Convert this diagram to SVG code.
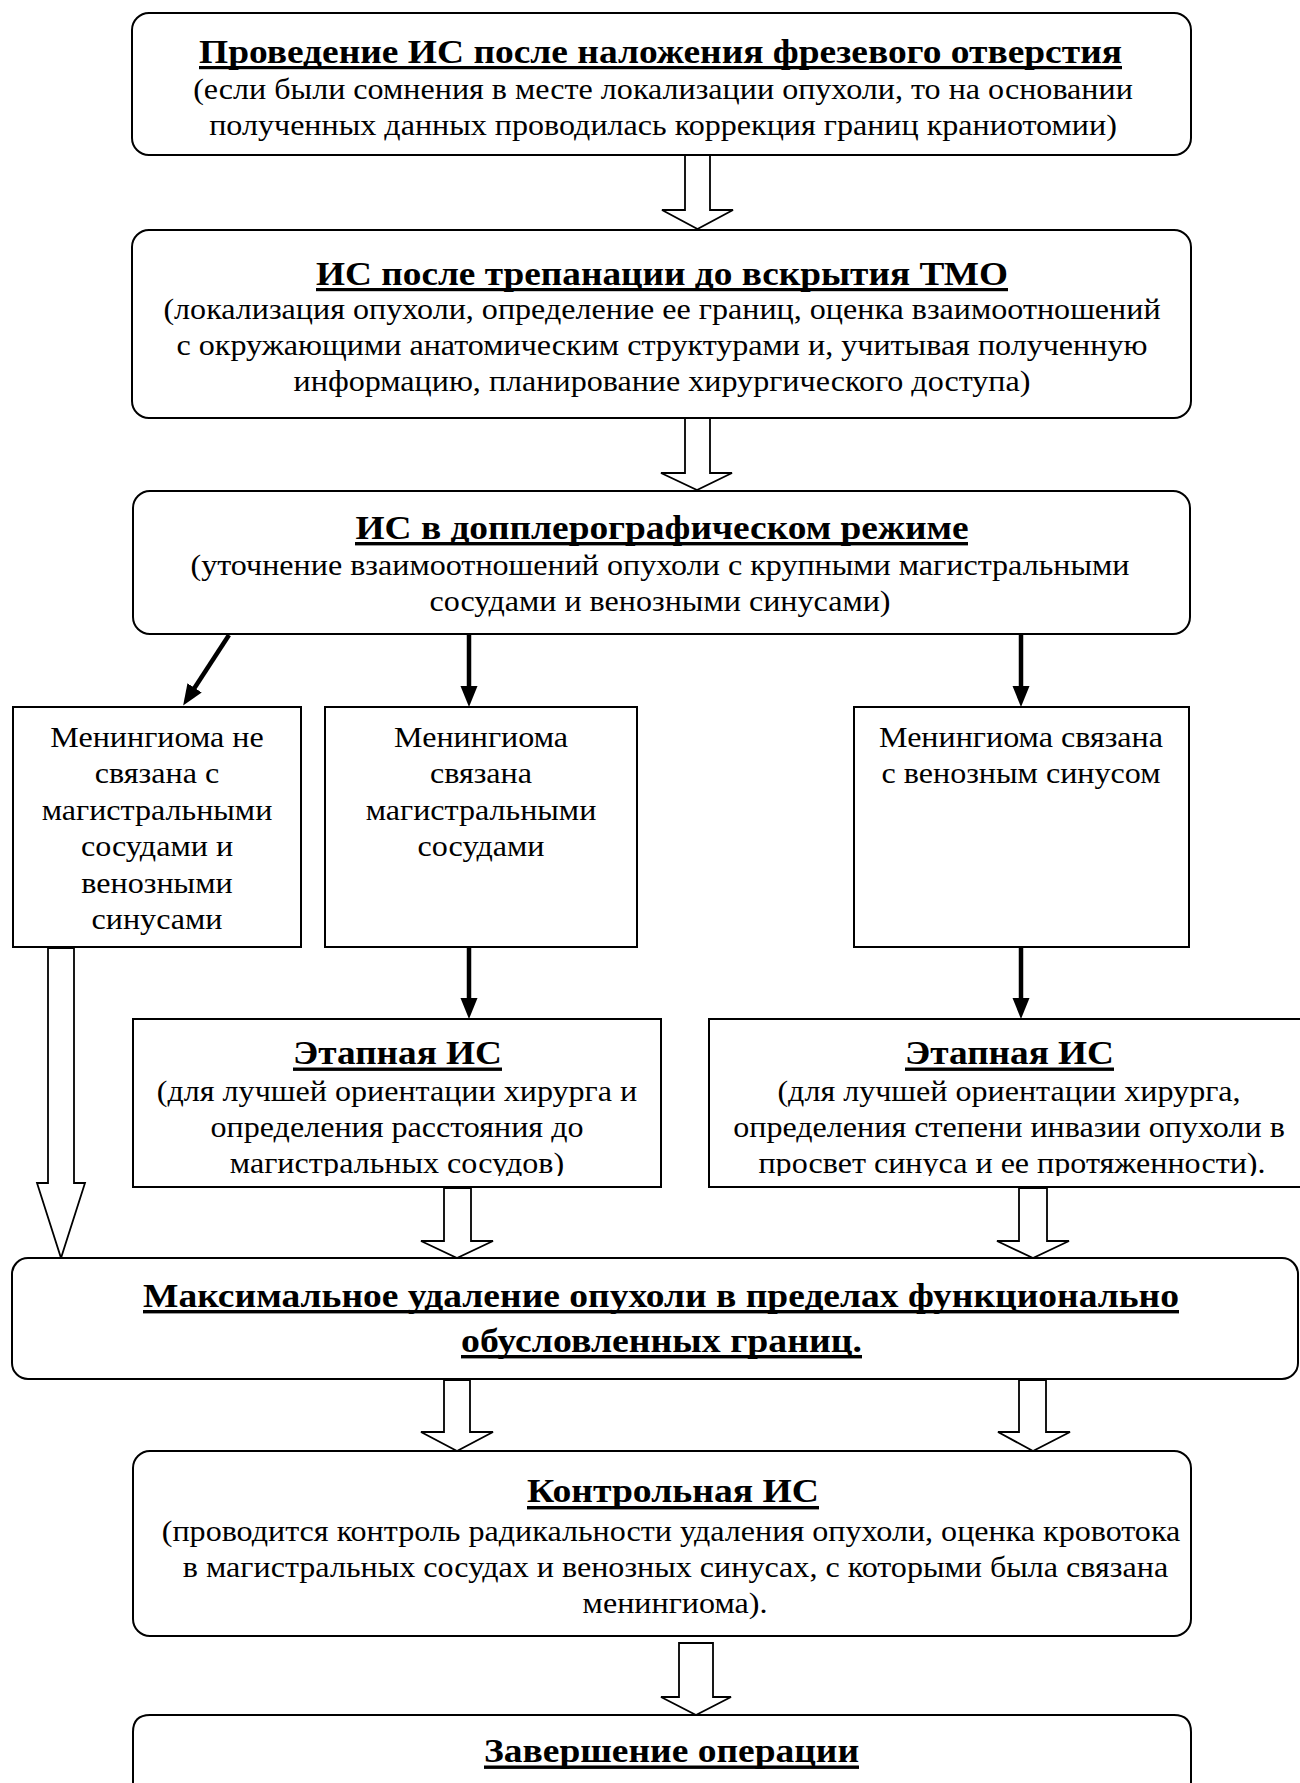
<svg xmlns="http://www.w3.org/2000/svg" width="1300" height="1783" viewBox="0 0 1300 1783">
<style>
.box{fill:#fff;stroke:#000;stroke-width:2}
.ha{fill:#fff;stroke:#000;stroke-width:1.8;stroke-linejoin:miter}
.sl{stroke:#000;stroke-width:4.5;fill:none}
text{font-family:"Liberation Serif","Times New Roman",serif;fill:#000;text-anchor:middle}
.t{font-size:33px;font-weight:bold}
.b{font-size:30px}
.ul{fill:#000}
</style>
<defs>
<marker id="ah" markerUnits="userSpaceOnUse" markerWidth="22" markerHeight="18" refX="2" refY="8.5" orient="auto" viewBox="0 0 22 17">
<path d="M0,0 L21,8.5 L0,17 z" fill="#000"/>
</marker>
<clipPath id="clipDE"><rect x="-2000" y="1000" width="5000" height="176"/></clipPath>
</defs>
<rect width="1300" height="1783" fill="#fff"/>

<g id="connectors">
<polygon class="ha" points="685,155 710,155 710,210 733,210 697.5,229 662,210 685,210"/>
<polygon class="ha" points="685,418 710,418 710,473 732,473 697,490 661,473 685,473"/>
<line class="sl" x1="229" y1="635" x2="193.5" y2="689.5" marker-end="url(#ah)"/>
<line class="sl" x1="469" y1="634" x2="469" y2="688" marker-end="url(#ah)"/>
<line class="sl" x1="1021" y1="634" x2="1021" y2="688" marker-end="url(#ah)"/>
<line class="sl" x1="469" y1="948" x2="469" y2="1000" marker-end="url(#ah)"/>
<line class="sl" x1="1021" y1="948" x2="1021" y2="1000" marker-end="url(#ah)"/>
<polygon class="ha" points="48,948 74,948 74,1183 85,1183 61,1258 37,1183 48,1183"/>
<polygon class="ha" points="444,1188 471,1188 471,1241 493,1241 457,1258 421,1241 444,1241"/>
<polygon class="ha" points="1019,1188 1047,1188 1047,1241 1069,1241 1033,1258 997,1241 1019,1241"/>
<polygon class="ha" points="444,1380 470,1380 470,1432 493,1432 457,1451 421,1432 444,1432"/>
<polygon class="ha" points="1019,1380 1046,1380 1046,1432 1070,1432 1033,1451 998,1432 1019,1432"/>
<polygon class="ha" points="679,1643 713,1643 713,1697 731,1697 696,1715 661,1697 679,1697"/>
</g>

<g id="n1">
<rect class="box" x="132" y="13" width="1059" height="142" rx="17"/>
<text class="t" x="660.5" y="63" textLength="923" lengthAdjust="spacingAndGlyphs">Проведение ИС после наложения фрезевого отверстия</text>
<rect class="ul" x="199" y="66" width="923" height="3.2"/>
<text class="b" transform="matrix(1.07,0,0,1,663,0)" x="0" y="99">(если были сомнения в месте локализации опухоли, то на основании</text>
<text class="b" transform="matrix(1.07,0,0,1,663,0)" x="0" y="135">полученных данных проводилась коррекция границ краниотомии)</text>
</g>

<g id="n2">
<rect class="box" x="132" y="230" width="1059" height="188" rx="17"/>
<text class="t" x="662" y="285" textLength="692" lengthAdjust="spacingAndGlyphs">ИС после трепанации до вскрытия ТМО</text>
<rect class="ul" x="316" y="288" width="692" height="3.2"/>
<text class="b" transform="matrix(1.07,0,0,1,662,0)" x="0" y="319">(локализация опухоли, определение ее границ, оценка взаимоотношений</text>
<text class="b" transform="matrix(1.07,0,0,1,662,0)" x="0" y="355">с окружающими анатомическим структурами и, учитывая полученную</text>
<text class="b" transform="matrix(1.07,0,0,1,662,0)" x="0" y="391">информацию, планирование хирургического доступа)</text>
</g>

<g id="n3">
<rect class="box" x="133" y="491" width="1057" height="143" rx="17"/>
<text class="t" x="662" y="539" textLength="613" lengthAdjust="spacingAndGlyphs">ИС в допплерографическом режиме</text>
<rect class="ul" x="355" y="542" width="613" height="3.4"/>
<text class="b" transform="matrix(1.07,0,0,1,660,0)" x="0" y="575">(уточнение взаимоотношений опухоли с крупными магистральными</text>
<text class="b" transform="matrix(1.07,0,0,1,660,0)" x="0" y="611">сосудами и венозными синусами)</text>
</g>

<g id="nA">
<rect class="box" x="13" y="707" width="288" height="240"/>
<text class="b" transform="matrix(1.07,0,0,1,157,0)" x="0" y="747">Менингиома не</text>
<text class="b" transform="matrix(1.07,0,0,1,157,0)" x="0" y="783.5">связана с</text>
<text class="b" transform="matrix(1.07,0,0,1,157,0)" x="0" y="820">магистральными</text>
<text class="b" transform="matrix(1.07,0,0,1,157,0)" x="0" y="856.5">сосудами и</text>
<text class="b" transform="matrix(1.07,0,0,1,157,0)" x="0" y="893">венозными</text>
<text class="b" transform="matrix(1.07,0,0,1,157,0)" x="0" y="929.5">синусами</text>
</g>

<g id="nB">
<rect class="box" x="325" y="707" width="312" height="240"/>
<text class="b" transform="matrix(1.07,0,0,1,481,0)" x="0" y="747">Менингиома</text>
<text class="b" transform="matrix(1.07,0,0,1,481,0)" x="0" y="783.5">связана</text>
<text class="b" transform="matrix(1.07,0,0,1,481,0)" x="0" y="820">магистральными</text>
<text class="b" transform="matrix(1.07,0,0,1,481,0)" x="0" y="856.5">сосудами</text>
</g>

<g id="nC">
<rect class="box" x="854" y="707" width="335" height="240"/>
<text class="b" transform="matrix(1.07,0,0,1,1021,0)" x="0" y="747">Менингиома связана</text>
<text class="b" transform="matrix(1.07,0,0,1,1021,0)" x="0" y="783.5">с венозным синусом</text>
</g>

<g id="nD">
<rect class="box" x="133" y="1019" width="528" height="168"/>
<text class="t" x="397.5" y="1064" textLength="209" lengthAdjust="spacingAndGlyphs">Этапная ИС</text>
<rect class="ul" x="293" y="1067.5" width="209" height="3.4"/>
<text class="b" transform="matrix(1.07,0,0,1,397,0)" x="0" y="1101">(для лучшей ориентации хирурга и</text>
<text class="b" transform="matrix(1.07,0,0,1,397,0)" x="0" y="1137">определения расстояния до</text>
<g clip-path="url(#clipDE)"><text class="b" transform="matrix(1.07,0,0,1,397,0)" x="0" y="1173">магистральных сосудов)</text></g>
</g>

<g id="nE">
<rect class="box" x="709" y="1019" width="600" height="168"/>
<text class="t" x="1009.5" y="1064" textLength="209" lengthAdjust="spacingAndGlyphs">Этапная ИС</text>
<rect class="ul" x="905" y="1067.5" width="209" height="3.4"/>
<text class="b" transform="matrix(1.07,0,0,1,1009,0)" x="0" y="1101">(для лучшей ориентации хирурга,</text>
<text class="b" transform="matrix(1.07,0,0,1,1009,0)" x="0" y="1137">определения степени инвазии опухоли в</text>
<g clip-path="url(#clipDE)"><text class="b" transform="matrix(1.07,0,0,1,1012,0)" x="0" y="1173">просвет синуса и ее протяженности).</text></g>
</g>

<g id="nF">
<rect class="box" x="12" y="1258" width="1286" height="121" rx="16"/>
<text class="t" x="661" y="1307" textLength="1036" lengthAdjust="spacingAndGlyphs">Максимальное удаление опухоли в пределах функционально</text>
<rect class="ul" x="143" y="1310" width="1036" height="3.4"/>
<text class="t" x="661.5" y="1352" textLength="401" lengthAdjust="spacingAndGlyphs">обусловленных границ.</text>
<rect class="ul" x="461" y="1355" width="401" height="3.4"/>
</g>

<g id="nG">
<rect class="box" x="133" y="1451" width="1058" height="185" rx="17"/>
<text class="t" x="673" y="1502" textLength="292" lengthAdjust="spacingAndGlyphs">Контрольная ИС</text>
<rect class="ul" x="527" y="1506" width="292" height="3.4"/>
<text class="b" transform="matrix(1.07,0,0,1,671,0)" x="0" y="1541">(проводится контроль радикальности удаления опухоли, оценка кровотока</text>
<text class="b" transform="matrix(1.07,0,0,1,675.5,0)" x="0" y="1577">в магистральных сосудах и венозных синусах, с которыми была связана</text>
<text class="b" transform="matrix(1.07,0,0,1,675,0)" x="0" y="1613">менингиома).</text>
</g>

<g id="nH">
<path class="box" d="M133,1800 L133,1732 Q133,1715 150,1715 L1174,1715 Q1191,1715 1191,1732 L1191,1800"/>
<text class="t" x="671.5" y="1762" textLength="375" lengthAdjust="spacingAndGlyphs">Завершение операции</text>
<rect class="ul" x="484" y="1765.5" width="375" height="3.4"/>
</g>
</svg>
